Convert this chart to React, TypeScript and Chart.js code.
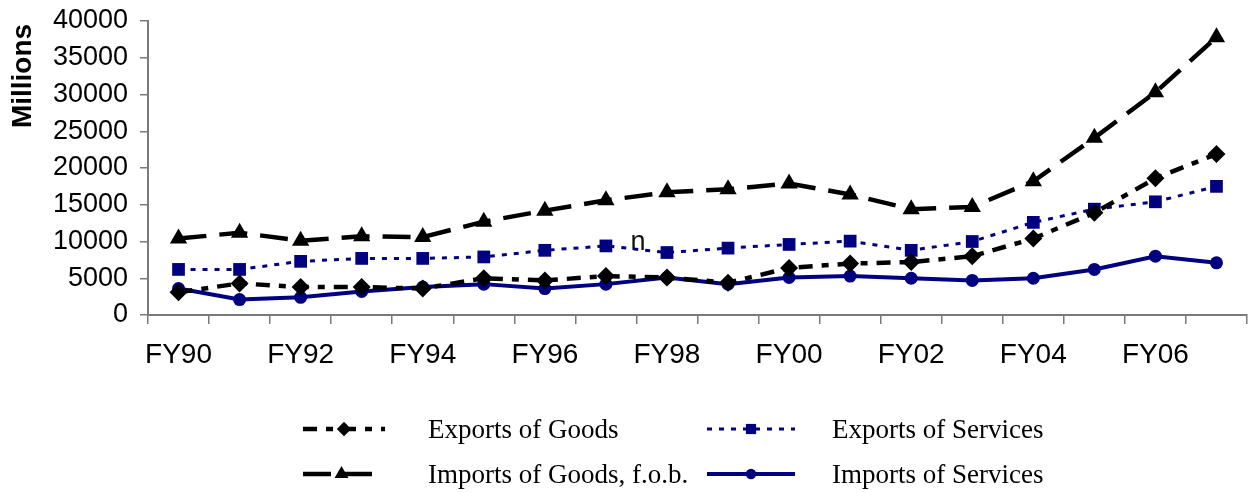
import { useEffect, useRef } from 'react';
import { Chart, registerables } from 'chart.js';

Chart.register(...registerables);

// Fiscal years on the category axis
const fiscalYears = [
  'FY90', 'FY91', 'FY92', 'FY93', 'FY94', 'FY95', 'FY96', 'FY97', 'FY98',
  'FY99', 'FY00', 'FY01', 'FY02', 'FY03', 'FY04', 'FY05', 'FY06', 'FY07',
];

// Values in millions
const exportsOfGoods = [
  3100, 4300, 3800, 3800, 3600, 5000, 4700, 5300, 5100,
  4400, 6400, 7000, 7200, 8000, 10400, 13900, 18600, 21900,
];
const exportsOfServices = [
  6200, 6200, 7300, 7700, 7700, 7900, 8800, 9400, 8500,
  9100, 9600, 10050, 8800, 10000, 12600, 14400, 15400, 17500,
];
const importsOfGoods = [
  10400, 11200, 10100, 10700, 10600, 12700, 14200, 15600, 16700,
  17100, 17900, 16400, 14400, 14700, 18200, 24100, 30300, 37800,
];
const importsOfServices = [
  3600, 2100, 2400, 3200, 3800, 4200, 3600, 4200, 5100,
  4200, 5100, 5300, 5000, 4700, 5000, 6200, 8000, 7100,
];

const yTickMin = 0;
const yTickMax = 40000;
const yTickStep = 5000;

const seriesNames = [
  'Exports of Goods',
  'Exports of Services',
  'Imports of Goods, f.o.b.',
  'Imports of Services',
];

const NAVY = '#000080';
const AXIS_GRAY = '#7a7a7a';
const SANS = '"Liberation Sans", Arial, sans-serif';
const SERIF = '"Liberation Serif", "Times New Roman", serif';

function drawMarker(ctx: CanvasRenderingContext2D, style: string, x: number, y: number, r: number, color: string) {
  ctx.save();
  ctx.fillStyle = color;
  ctx.setLineDash([]);
  ctx.beginPath();
  if (style === 'rectRot') {
    ctx.moveTo(x, y - r);
    ctx.lineTo(x + r, y);
    ctx.lineTo(x, y + r);
    ctx.lineTo(x - r, y);
  } else if (style === 'rect') {
    const s = r * Math.SQRT1_2;
    ctx.rect(x - s, y - s, 2 * s, 2 * s);
  } else if (style === 'triangle') {
    const a = (Math.PI * 2) / 3;
    ctx.moveTo(x, y - r);
    ctx.lineTo(x + Math.sin(a) * r, y - Math.cos(a) * r);
    ctx.lineTo(x - Math.sin(a) * r, y - Math.cos(a) * r);
  } else {
    ctx.arc(x, y, r, 0, Math.PI * 2);
  }
  ctx.closePath();
  ctx.fill();
  ctx.restore();
}

// Axis title, stray glyph and the two-column legend under the plot
const decorations = {
  id: 'decorations',
  afterDraw(chart: any) {
    const ctx: CanvasRenderingContext2D = chart.ctx;
    ctx.save();

    // y axis title
    ctx.save();
    ctx.translate(23, 76);
    ctx.rotate(-Math.PI / 2);
    ctx.font = `bold 28px ${SANS}`;
    ctx.fillStyle = '#000';
    ctx.textAlign = 'center';
    ctx.textBaseline = 'middle';
    ctx.fillText('Millions', 0, 0);
    ctx.restore();

    // stray glyph inside the plot
    ctx.font = `27px ${SANS}`;
    ctx.fillStyle = '#111';
    ctx.textAlign = 'center';
    ctx.textBaseline = 'alphabetic';
    ctx.fillText('n', 638, 250);

    // legend
    const slots = [
      { ds: 0, x1: 303, x2: 385, y: 429, tx: 428, ty: 438 },
      { ds: 1, x1: 707, x2: 795, y: 429, tx: 832, ty: 438 },
      { ds: 2, x1: 303, x2: 380, y: 474, tx: 428, ty: 483 },
      { ds: 3, x1: 707, x2: 795, y: 474, tx: 832, ty: 483 },
    ];
    slots.forEach((s) => {
      const d = chart.data.datasets[s.ds];
      ctx.save();
      ctx.strokeStyle = d.borderColor;
      ctx.lineWidth = d.borderWidth;
      ctx.setLineDash(d.borderDash || []);
      ctx.beginPath();
      ctx.moveTo(s.x1, s.y);
      ctx.lineTo(s.x2, s.y);
      ctx.stroke();
      ctx.restore();
      drawMarker(ctx, d.pointStyle, (s.x1 + s.x2) / 2, s.y, d.pointRadius * 0.8, d.pointBackgroundColor);
      ctx.font = `27px ${SERIF}`;
      ctx.fillStyle = '#000';
      ctx.textAlign = 'left';
      ctx.textBaseline = 'alphabetic';
      ctx.fillText(d.label, s.tx, s.ty);
    });

    ctx.restore();
  },
};

export default function App() {
  const canvasRef = useRef<HTMLCanvasElement | null>(null);

  useEffect(() => {
    document.body.style.margin = '0';
    document.body.style.overflow = 'hidden';
    const canvas = canvasRef.current;
    if (!canvas) return;

    const chart = new Chart(canvas, {
      type: 'line',
      data: {
        labels: fiscalYears,
        datasets: [
          {
            label: seriesNames[0],
            data: exportsOfGoods,
            borderColor: '#000',
            borderWidth: 4.5,
            borderDash: [14, 9, 7, 9],
            pointStyle: 'rectRot',
            pointRadius: 9,
            pointBackgroundColor: '#000',
            pointBorderColor: '#000',
            pointBorderWidth: 0,
            tension: 0,
          },
          {
            label: seriesNames[1],
            data: exportsOfServices,
            borderColor: NAVY,
            borderWidth: 3,
            borderDash: [5, 7],
            pointStyle: 'rect',
            pointRadius: 9,
            pointBackgroundColor: NAVY,
            pointBorderColor: NAVY,
            pointBorderWidth: 0,
            tension: 0,
          },
          {
            label: seriesNames[2],
            data: importsOfGoods,
            borderColor: '#000',
            borderWidth: 4.5,
            borderDash: [28, 13],
            pointStyle: 'triangle',
            pointRadius: 10,
            pointBackgroundColor: '#000',
            pointBorderColor: '#000',
            pointBorderWidth: 0,
            tension: 0,
          },
          {
            label: seriesNames[3],
            data: importsOfServices,
            borderColor: NAVY,
            borderWidth: 4,
            pointStyle: 'circle',
            pointRadius: 6.5,
            pointBackgroundColor: NAVY,
            pointBorderColor: NAVY,
            pointBorderWidth: 0,
            tension: 0,
          },
        ],
      },
      options: {
        responsive: false,
        animation: false,
        layout: { padding: { top: 21, right: 8, left: 0, bottom: 0 } },
        plugins: {
          legend: { display: false },
          tooltip: { enabled: false },
          title: { display: false },
        },
        scales: {
          x: {
            offset: true,
            afterFit: (scale: any) => {
              scale.height = 178;
              scale.paddingLeft = 0;
              scale.paddingRight = 0;
            },
            grid: {
              offset: true,
              drawOnChartArea: false,
              drawTicks: true,
              tickLength: 9,
              color: AXIS_GRAY,
              lineWidth: 1.5,
            },
            border: { display: true, color: AXIS_GRAY, width: 2 },
            ticks: {
              autoSkip: false,
              maxRotation: 0,
              minRotation: 0,
              padding: 14,
              color: '#000',
              font: { family: SANS, size: 28 },
              callback: (_v: any, i: number) => (i % 2 === 0 ? fiscalYears[i] : ''),
            },
          },
          y: {
            min: yTickMin,
            max: yTickMax,
            afterFit: (scale: any) => {
              scale.width = 148;
              scale.paddingTop = 0;
              scale.paddingBottom = 0;
            },
            grid: {
              drawOnChartArea: false,
              drawTicks: true,
              tickLength: 8,
              color: AXIS_GRAY,
              lineWidth: 1.5,
            },
            border: { display: true, color: AXIS_GRAY, width: 2 },
            ticks: {
              stepSize: yTickStep,
              padding: 12,
              color: '#000',
              font: { family: SANS, size: 27 },
              callback: (v: any) => String(v),
            },
          },
        },
      },
      plugins: [decorations],
    });

    return () => chart.destroy();
  }, []);

  return (
    <div style={{ width: 1257, height: 493, position: 'relative' }}>
      <canvas ref={canvasRef} width={1257} height={493} style={{ display: 'block' }} />
    </div>
  );
}
